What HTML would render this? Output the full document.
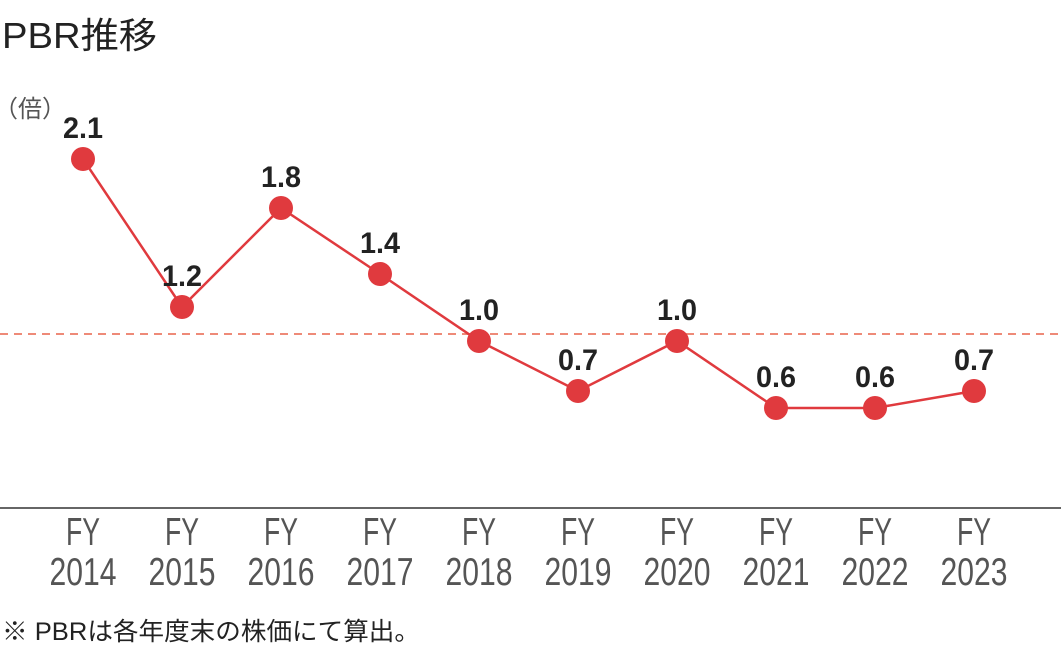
<!DOCTYPE html>
<html><head><meta charset="utf-8"><style>
body{margin:0;background:#fff;width:1061px;height:653px;overflow:hidden}
</style></head><body>
<svg width="1061" height="653" xmlns="http://www.w3.org/2000/svg" style="font-family:'Liberation Sans','Noto Sans CJK JP',sans-serif">
<text x="2" y="48" font-size="36" fill="#222" textLength="155" lengthAdjust="spacingAndGlyphs">PBR推移</text>
<text x="-6" y="117" font-size="24" fill="#555">（倍）</text>
<line x1="0" y1="334" x2="1061" y2="334" stroke="#ee8a78" stroke-width="2" stroke-dasharray="8,6"/>
<line x1="0" y1="508" x2="1061" y2="508" stroke="#666" stroke-width="2"/>
<polyline fill="none" stroke="#e03a3e" stroke-width="2.5" points="83,159 182,307 281,208 380,274 479,341 578,391 677,341 776,408 875,408 974,391"/>
<g fill="#e03a3e">
<circle cx="83" cy="159" r="12"/><circle cx="182" cy="307" r="12"/><circle cx="281" cy="208" r="12"/><circle cx="380" cy="274" r="12"/><circle cx="479" cy="341" r="12"/><circle cx="578" cy="391" r="12"/><circle cx="677" cy="341" r="12"/><circle cx="776" cy="408" r="12"/><circle cx="875" cy="408" r="12"/><circle cx="974" cy="391" r="12"/>
</g>
<g font-size="30" font-weight="bold" fill="#222" text-anchor="middle">
<text x="83" y="138" textLength="40" lengthAdjust="spacingAndGlyphs">2.1</text><text x="182" y="286" textLength="40" lengthAdjust="spacingAndGlyphs">1.2</text><text x="281" y="187" textLength="40" lengthAdjust="spacingAndGlyphs">1.8</text><text x="380" y="253" textLength="40" lengthAdjust="spacingAndGlyphs">1.4</text><text x="479" y="320" textLength="40" lengthAdjust="spacingAndGlyphs">1.0</text><text x="578" y="370" textLength="40" lengthAdjust="spacingAndGlyphs">0.7</text><text x="677" y="320" textLength="40" lengthAdjust="spacingAndGlyphs">1.0</text><text x="776" y="387" textLength="40" lengthAdjust="spacingAndGlyphs">0.6</text><text x="875" y="387" textLength="40" lengthAdjust="spacingAndGlyphs">0.6</text><text x="974" y="370" textLength="40" lengthAdjust="spacingAndGlyphs">0.7</text>
</g>
<g font-size="39" fill="#555" text-anchor="middle">
<text x="83" y="545" textLength="34" lengthAdjust="spacingAndGlyphs">FY</text><text x="83" y="585" textLength="67" lengthAdjust="spacingAndGlyphs">2014</text>
<text x="182" y="545" textLength="34" lengthAdjust="spacingAndGlyphs">FY</text><text x="182" y="585" textLength="67" lengthAdjust="spacingAndGlyphs">2015</text>
<text x="281" y="545" textLength="34" lengthAdjust="spacingAndGlyphs">FY</text><text x="281" y="585" textLength="67" lengthAdjust="spacingAndGlyphs">2016</text>
<text x="380" y="545" textLength="34" lengthAdjust="spacingAndGlyphs">FY</text><text x="380" y="585" textLength="67" lengthAdjust="spacingAndGlyphs">2017</text>
<text x="479" y="545" textLength="34" lengthAdjust="spacingAndGlyphs">FY</text><text x="479" y="585" textLength="67" lengthAdjust="spacingAndGlyphs">2018</text>
<text x="578" y="545" textLength="34" lengthAdjust="spacingAndGlyphs">FY</text><text x="578" y="585" textLength="67" lengthAdjust="spacingAndGlyphs">2019</text>
<text x="677" y="545" textLength="34" lengthAdjust="spacingAndGlyphs">FY</text><text x="677" y="585" textLength="67" lengthAdjust="spacingAndGlyphs">2020</text>
<text x="776" y="545" textLength="34" lengthAdjust="spacingAndGlyphs">FY</text><text x="776" y="585" textLength="67" lengthAdjust="spacingAndGlyphs">2021</text>
<text x="875" y="545" textLength="34" lengthAdjust="spacingAndGlyphs">FY</text><text x="875" y="585" textLength="67" lengthAdjust="spacingAndGlyphs">2022</text>
<text x="974" y="545" textLength="34" lengthAdjust="spacingAndGlyphs">FY</text><text x="974" y="585" textLength="67" lengthAdjust="spacingAndGlyphs">2023</text>
</g>
<text x="2" y="640" font-size="25" fill="#222" textLength="418" lengthAdjust="spacingAndGlyphs">※ PBRは各年度末の株価にて算出。</text>
</svg>
</body></html>
